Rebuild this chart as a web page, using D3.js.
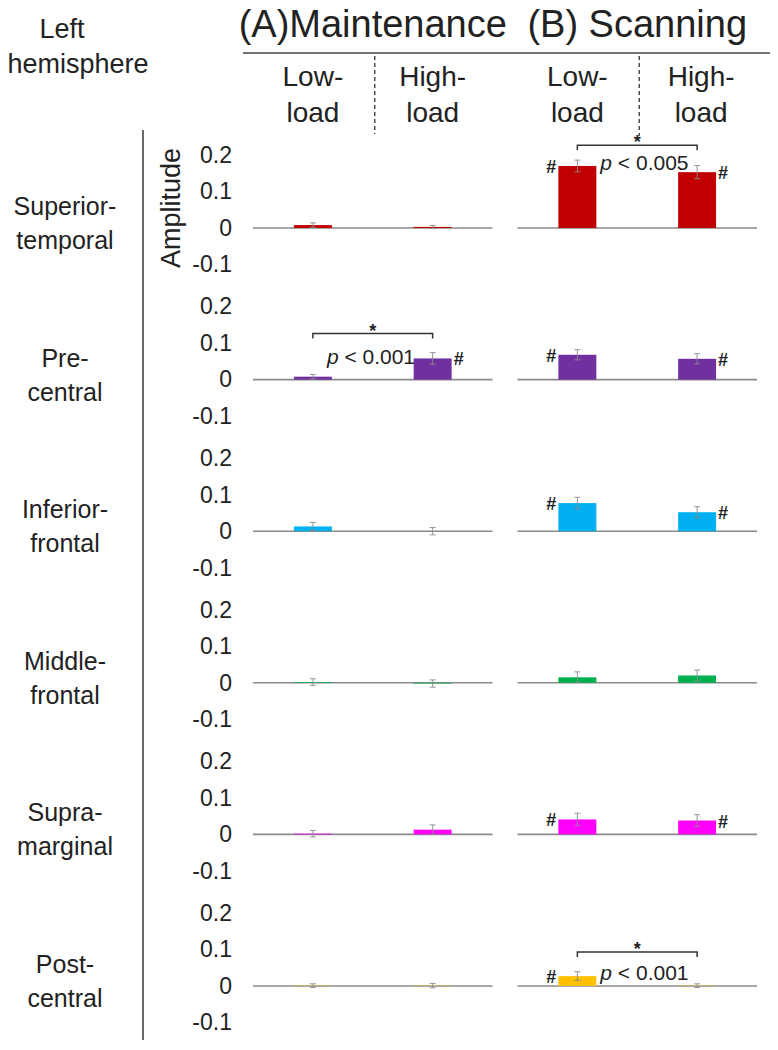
<!DOCTYPE html>
<html>
<head>
<meta charset="utf-8">
<script src="https://cdn.jsdelivr.net/npm/d3@7"></script>
<style>
  html, body { margin: 0; padding: 0; background: #fff; }
  svg text { font-family: "Liberation Sans", Arial, sans-serif; fill: #222; }
</style>
</head>
<body>
<svg id="chart" width="778" height="1050"></svg>
<script>
// ---------------- data ----------------
const regions = ["Superior-temporal", "Pre-central", "Inferior-frontal", "Middle-frontal", "Supra-marginal", "Post-central"];
const regionLines = [["Superior-", "temporal"], ["Pre-", "central"], ["Inferior-", "frontal"], ["Middle-", "frontal"], ["Supra-", "marginal"], ["Post-", "central"]];
const regionColors = ["#c00000", "#7030a0", "#00b0f0", "#00b050", "#ff00ff", "#ffc000"];
const conditions = ["(A)Maintenance", "(B) Scanning"];
const loads = ["Low-load", "High-load"];
const loadLines = [["Low-", "load"], ["High-", "load"]];
const yTicks = [-0.1, 0, 0.1, 0.2];

// amplitudes per region
const maintLow   = [0.008, 0.008, 0.013, 0.002, 0.002, 0.001];
const maintHigh  = [0.003, 0.058, 0.000, -0.002, 0.013, 0.001];
const scanLow    = [0.170, 0.068, 0.077, 0.015, 0.041, 0.027];
const scanHigh   = [0.153, 0.057, 0.052, 0.020, 0.038, 0.001];
// standard errors
const maintLowErr  = [0.006, 0.006, 0.011, 0.009, 0.009, 0.005];
const maintHighErr = [0.004, 0.016, 0.010, 0.010, 0.013, 0.006];
const scanLowErr   = [0.016, 0.014, 0.016, 0.015, 0.017, 0.012];
const scanHighErr  = [0.018, 0.014, 0.015, 0.015, 0.016, 0.005];

// "#" markers: [condition, load, region]
const hashMarks = [
  [1, 0, 0], [1, 1, 0],
  [0, 1, 1], [1, 0, 1], [1, 1, 1],
  [1, 0, 2], [1, 1, 2],
  [1, 0, 4], [1, 1, 4],
  [1, 0, 5]
];
// significance brackets
const sigCond   = [1, 0, 1];
const sigRegion = [0, 1, 5];
const sigBracket = [0.227, 0.126, 0.093];
const sigTextY   = [0.178, 0.063, 0.036];
const sigLabel   = ["< 0.005", "< 0.001", "< 0.001"];

// ---------------- layout ----------------
const svg = d3.select("#chart");
const values = [[maintLow, maintHigh], [scanLow, scanHigh]];
const errors = [[maintLowErr, maintHighErr], [scanLowErr, scanHighErr]];

const panelX = d3.scaleBand().domain(conditions).range([253, 757]).paddingInner(25 / 265);
const xIn = conditions.map(c =>
  d3.scaleBand().domain(loads)
    .range([panelX(c), panelX(c) + panelX.bandwidth()])
    .paddingInner(0.683).paddingOuter(0.3415)
);
const rowZero = d3.scalePoint().domain(regions).range([228, 986]);
const yScale = regions.map(r =>
  d3.scaleLinear().domain([-0.1, 0.2]).range([rowZero(r) + 36.5, rowZero(r) - 73])
);

// ---------------- header ----------------
svg.append("text").attr("x", 62).attr("y", 38).attr("text-anchor", "middle")
  .style("font-size", "27px").text("Left");
svg.append("text").attr("x", 78).attr("y", 73).attr("text-anchor", "middle")
  .style("font-size", "27px").text("hemisphere");

conditions.forEach((c, ci) => {
  const cx = panelX(c) + panelX.bandwidth() / 2;
  svg.append("text").attr("x", cx).attr("y", 37).attr("text-anchor", "middle")
    .style("font-size", "38px").text(c);
  loads.forEach((l, li) => {
    const bx = xIn[ci](l) + xIn[ci].bandwidth() / 2 + (ci === 1 && li === 1 ? 4 : 0);
    svg.append("text").attr("x", bx).attr("y", 86).attr("text-anchor", "middle")
      .style("font-size", "28px").text(loadLines[li][0]);
    svg.append("text").attr("x", bx).attr("y", 122).attr("text-anchor", "middle")
      .style("font-size", "28px").text(loadLines[li][1]);
  });
  svg.append("line")
    .attr("x1", cx + 2).attr("x2", cx + 2)
    .attr("y1", 56).attr("y2", ci === 0 ? 134 : 136)
    .attr("stroke", "#333").attr("stroke-width", 1.3).attr("stroke-dasharray", "4,3");
});
svg.append("line").attr("x1", 243).attr("x2", 770).attr("y1", 53).attr("y2", 53)
  .attr("stroke", "#444").attr("stroke-width", 1.6);

// left vertical separator
svg.append("line").attr("x1", 143).attr("x2", 143).attr("y1", 130).attr("y2", 1040)
  .attr("stroke", "#444").attr("stroke-width", 1.6);

// Amplitude label
svg.append("text")
  .attr("transform", `translate(180, ${rowZero(regions[0]) - 20}) rotate(-90)`)
  .attr("text-anchor", "middle").style("font-size", "27px").text("Amplitude");

// ---------------- rows ----------------
regions.forEach((r, ri) => {
  const y = yScale[ri];
  const z = y(0);
  // row label
  svg.append("text").attr("x", 65).attr("y", z - 13).attr("text-anchor", "middle")
    .style("font-size", "25px").text(regionLines[ri][0]);
  svg.append("text").attr("x", 65).attr("y", z + 21).attr("text-anchor", "middle")
    .style("font-size", "25px").text(regionLines[ri][1]);

  // y axis ticks
  const ax = svg.append("g").attr("transform", "translate(235,0)")
    .call(d3.axisLeft(y).tickValues(yTicks).tickSize(0).tickPadding(3).tickFormat(d => String(d)));
  ax.select(".domain").remove();
  ax.selectAll("text").style("font-size", "23px").attr("fill", "#222")
    .style("font-family", '"Liberation Sans", Arial, sans-serif');

  conditions.forEach((c, ci) => {
    // zero line
    svg.append("line")
      .attr("x1", panelX(c)).attr("x2", panelX(c) + panelX.bandwidth())
      .attr("y1", z).attr("y2", z).attr("stroke", "#8a8a8a").attr("stroke-width", 1.6);
    loads.forEach((l, li) => {
      const v = values[ci][li][ri];
      const e = errors[ci][li][ri];
      const x0 = xIn[ci](l);
      const bw = xIn[ci].bandwidth();
      svg.append("rect")
        .attr("x", x0).attr("width", bw)
        .attr("y", Math.min(y(v), z)).attr("height", Math.abs(y(v) - z))
        .attr("fill", regionColors[ri]);
      const cx = x0 + bw / 2;
      const g = svg.append("g").attr("stroke", "#8c8c8c").attr("stroke-width", 1).attr("opacity", 0.9);
      g.append("line").attr("x1", cx).attr("x2", cx).attr("y1", y(v - e)).attr("y2", y(v + e));
      g.append("line").attr("x1", cx - 3).attr("x2", cx + 3).attr("y1", y(v + e)).attr("y2", y(v + e));
      g.append("line").attr("x1", cx - 3).attr("x2", cx + 3).attr("y1", y(v - e)).attr("y2", y(v - e));
    });
  });
});

// "#" markers
hashMarks.forEach(([ci, li, ri]) => {
  const x0 = xIn[ci](loads[li]);
  const bw = xIn[ci].bandwidth();
  const v = values[ci][li][ri];
  svg.append("text")
    .attr("x", li === 0 ? x0 - 2 : x0 + bw + 2)
    .attr("y", yScale[ri](v) + 7)
    .attr("text-anchor", li === 0 ? "end" : "start")
    .style("font-size", "18px").style("font-weight", "bold").text("#");
});

// significance brackets
sigCond.forEach((ci, k) => {
  const ri = sigRegion[k];
  const y = yScale[ri];
  const xa = xIn[ci](loads[0]) + xIn[ci].bandwidth() / 2;
  const xb = xIn[ci](loads[1]) + xIn[ci].bandwidth() / 2;
  const yb = y(sigBracket[k]);
  svg.append("path")
    .attr("d", `M${xa},${yb + 5}V${yb}H${xb}V${yb + 5}`)
    .attr("fill", "none").attr("stroke", "#333").attr("stroke-width", 1.5);
  svg.append("text").attr("x", (xa + xb) / 2).attr("y", yb + 3)
    .attr("text-anchor", "middle").style("font-size", "18px").style("font-weight", "bold").text("*");
  const t = svg.append("text").attr("x", xa + (ci === 1 ? 23 : 14)).attr("y", y(sigTextY[k]) + 7)
    .style("font-size", "21px");
  t.append("tspan").style("font-style", "italic").text("p");
  t.append("tspan").text(" " + sigLabel[k]);
});
</script>
</body>
</html>
